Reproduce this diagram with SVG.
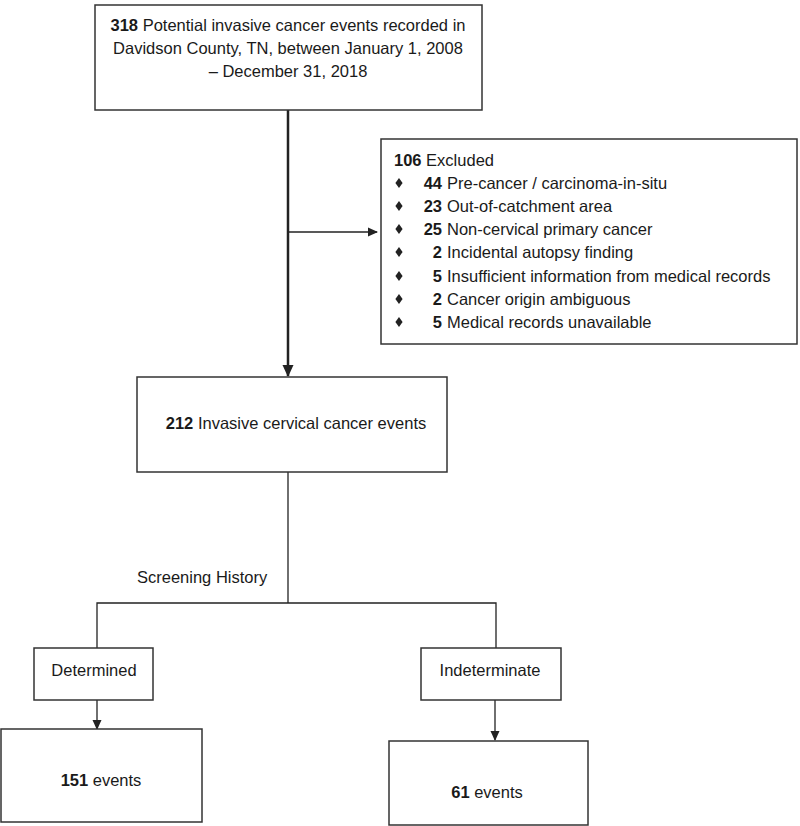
<svg xmlns="http://www.w3.org/2000/svg" width="800" height="826" viewBox="0 0 800 826">
<style>
.box{fill:#fff;stroke:#333;stroke-width:1.5}
.t{font-family:"Liberation Sans",Arial,sans-serif;font-size:16.5px;fill:#1a1a1a}
.b{font-weight:bold}
.ln{fill:none;stroke:#222;stroke-width:1.3}
.thick{fill:none;stroke:#222;stroke-width:2.5}
</style>
<defs>
<marker id="ah" markerWidth="10" markerHeight="10" refX="9" refY="5" orient="auto" markerUnits="userSpaceOnUse">
<path d="M0,0.5 L10,5 L0,9.5 Z" fill="#222"/>
</marker>
<marker id="ahb" markerWidth="12" markerHeight="12" refX="11" refY="6" orient="auto" markerUnits="userSpaceOnUse">
<path d="M0,0.5 L12,6 L0,11.5 Z" fill="#222"/>
</marker>
<polygon id="dia" points="0,-5 3.6,0 0,5 -3.6,0" fill="#222"/>
</defs>
<g id="connectors">
<line class="thick" x1="288" y1="110" x2="288" y2="376" marker-end="url(#ahb)"/>
<line class="ln" x1="289" y1="232" x2="377" y2="232" marker-end="url(#ah)"/>
<polyline class="ln" points="288,472 288,603"/>
<polyline class="ln" points="97,648 97,603 496,603 496,648"/>
<line class="ln" x1="97" y1="700" x2="97" y2="729" marker-end="url(#ah)"/>
<line class="ln" x1="495" y1="700" x2="495" y2="740" marker-end="url(#ah)"/>
<text class="t" x="137" y="583" font-size="16">Screening History</text>
</g>
<g id="n_total">
<rect class="box" x="95" y="5" width="387" height="105"/>
<text class="t" text-anchor="middle" x="288" y="31"><tspan class="b">318</tspan> Potential invasive cancer events recorded in</text>
<text class="t" text-anchor="middle" x="288" y="54">Davidson County, TN, between January 1, 2008</text>
<text class="t" text-anchor="middle" x="288" y="77">– December 31, 2018</text>
</g>
<g id="n_excluded">
<rect class="box" x="381" y="139" width="416" height="205"/>
<text class="t" x="394" y="166"><tspan class="b">106</tspan> Excluded</text>
<use href="#dia" x="399" y="183"/>
<use href="#dia" x="399" y="206"/>
<use href="#dia" x="399" y="229"/>
<use href="#dia" x="399" y="252"/>
<use href="#dia" x="399" y="276"/>
<use href="#dia" x="399" y="299"/>
<use href="#dia" x="399" y="322"/>
<text class="t b" text-anchor="end" x="442" y="189">44</text><text class="t" x="447" y="189">Pre-cancer / carcinoma-in-situ</text>
<text class="t b" text-anchor="end" x="442" y="212">23</text><text class="t" x="447" y="212">Out-of-catchment area</text>
<text class="t b" text-anchor="end" x="442" y="235">25</text><text class="t" x="447" y="235">Non-cervical primary cancer</text>
<text class="t b" text-anchor="end" x="442" y="258">2</text><text class="t" x="447" y="258">Incidental autopsy finding</text>
<text class="t b" text-anchor="end" x="442" y="282">5</text><text class="t" x="447" y="282">Insufficient information from medical records</text>
<text class="t b" text-anchor="end" x="442" y="305">2</text><text class="t" x="447" y="305">Cancer origin ambiguous</text>
<text class="t b" text-anchor="end" x="442" y="328">5</text><text class="t" x="447" y="328">Medical records unavailable</text>
</g>
<g id="n_invasive">
<rect class="box" x="137" y="377" width="310" height="95"/>
<text class="t" text-anchor="middle" x="296" y="429"><tspan class="b">212</tspan> Invasive cervical cancer events</text>
</g>
<g id="n_determined">
<rect class="box" x="34" y="648" width="119" height="52"/>
<text class="t" text-anchor="middle" x="94" y="676" font-size="15.5">Determined</text>
</g>
<g id="n_indeterminate">
<rect class="box" x="421" y="648" width="140" height="52"/>
<text class="t" text-anchor="middle" x="490" y="676" font-size="15.5">Indeterminate</text>
</g>
<g id="n_151">
<rect class="box" x="1" y="729" width="201" height="93"/>
<text class="t" text-anchor="middle" x="101" y="786"><tspan class="b">151</tspan> events</text>
</g>
<g id="n_61">
<rect class="box" x="389" y="741" width="199" height="84"/>
<text class="t" text-anchor="middle" x="487" y="798"><tspan class="b">61</tspan> events</text>
</g>
</svg>
